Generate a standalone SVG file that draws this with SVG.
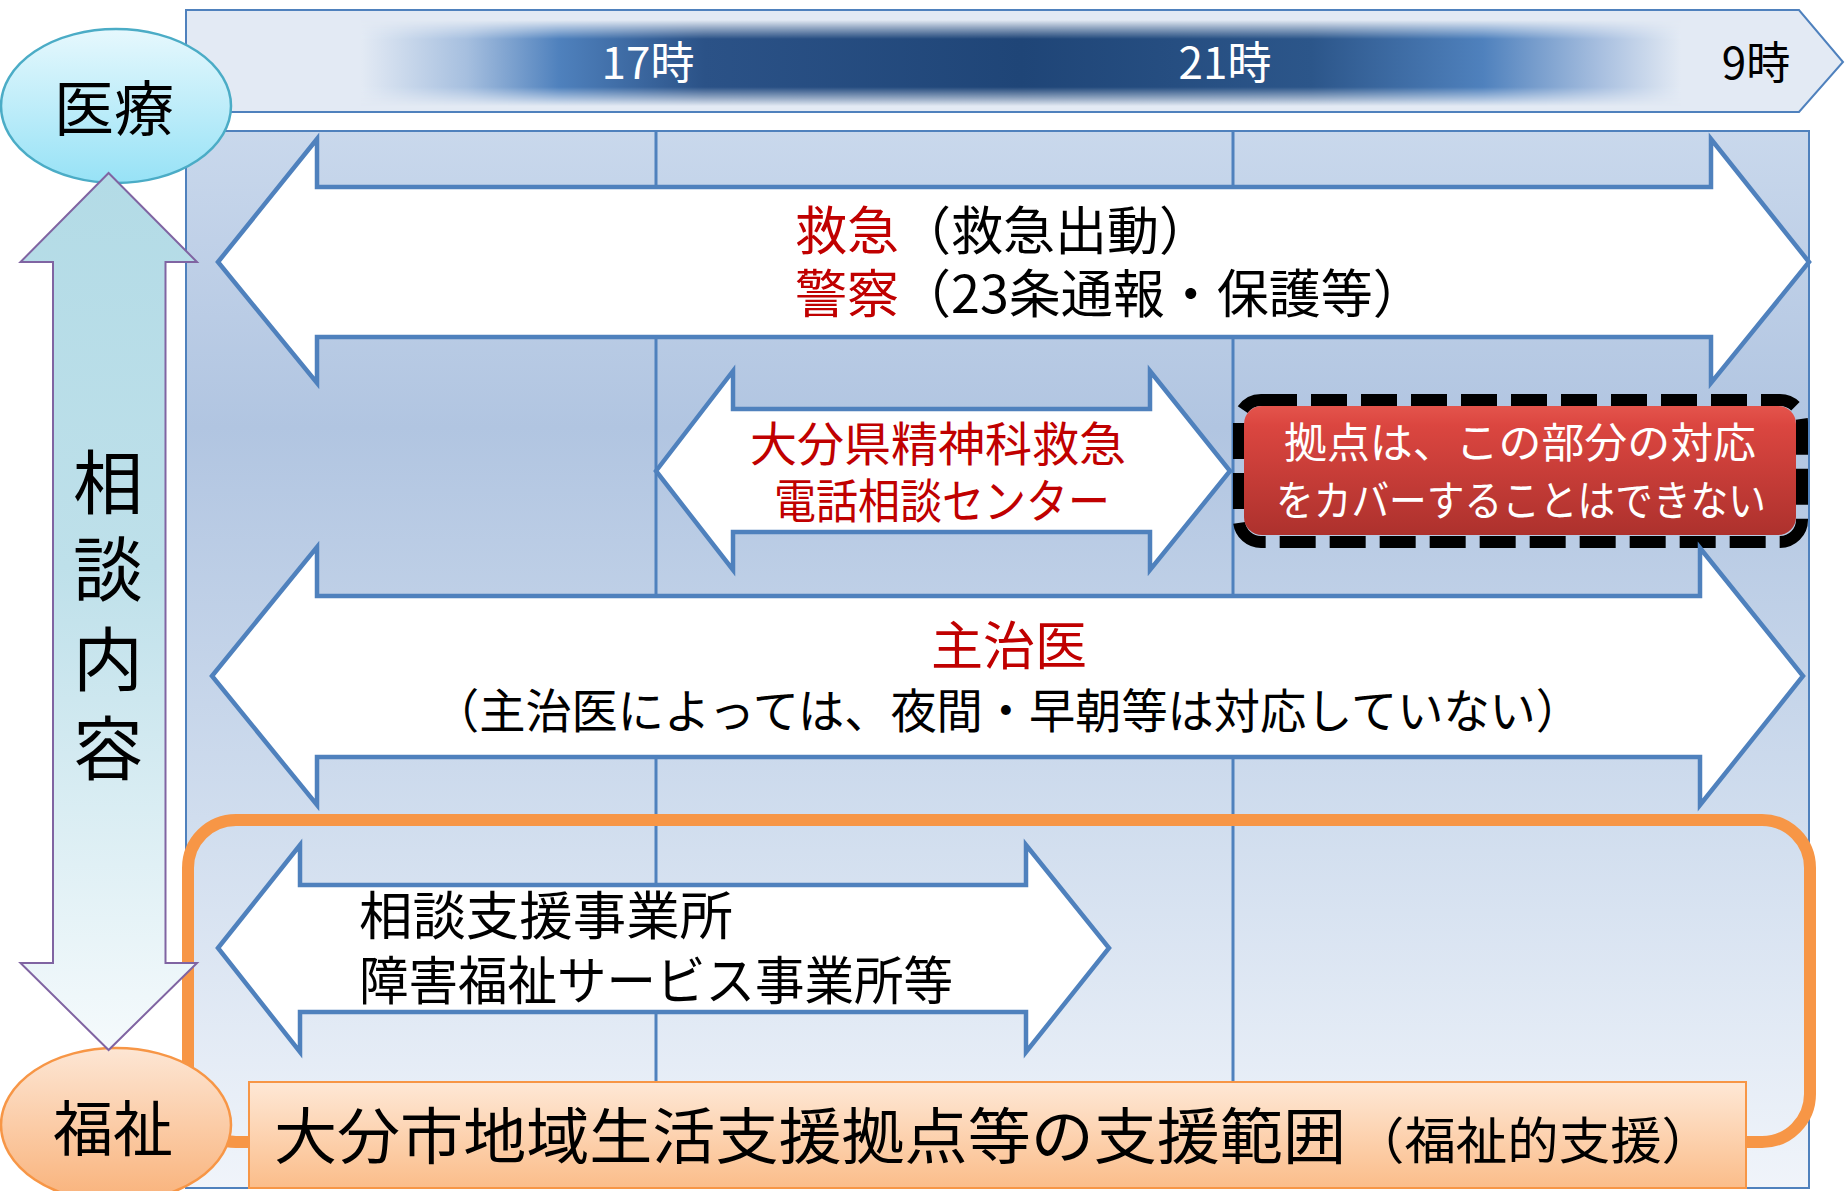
<svg xmlns="http://www.w3.org/2000/svg" width="1845" height="1191" viewBox="0 0 1845 1191">
<defs>
<style>
text{font-family:'Noto Sans CJK JP','Noto Sans',sans-serif;}
.arrow{fill:#ffffff;stroke:#4f81bd;stroke-width:4.5;stroke-linejoin:miter;}
.red{fill:#c00000;}
.blk{fill:#000000;}
.wht{fill:#ffffff;}
.vline{stroke:#4f81bd;stroke-width:3;}
</style>
<linearGradient id="gPanel" x1="0" y1="0" x2="0" y2="1">
<stop offset="0" stop-color="#c9d8ec"/>
<stop offset="0.28" stop-color="#b1c5e1"/>
<stop offset="0.65" stop-color="#d0ddee"/>
<stop offset="1" stop-color="#f0f4fa"/>
</linearGradient>
<linearGradient id="gBarH" x1="0" y1="0" x2="1" y2="0">
<stop offset="0" stop-color="#e3eaf4"/>
<stop offset="0.08" stop-color="#a6bfdf"/>
<stop offset="0.15" stop-color="#4f81bd"/>
<stop offset="0.26" stop-color="#2b5287"/>
<stop offset="0.5" stop-color="#1f4577"/>
<stop offset="0.72" stop-color="#2c568a"/>
<stop offset="0.85" stop-color="#4f81bd"/>
<stop offset="0.94" stop-color="#a9c0e0"/>
<stop offset="1" stop-color="#e3eaf4"/>
</linearGradient>
<linearGradient id="gBarMask" x1="0" y1="0" x2="0" y2="1">
<stop offset="0" stop-color="#000"/>
<stop offset="0.1" stop-color="#777"/>
<stop offset="0.22" stop-color="#fff"/>
<stop offset="0.78" stop-color="#fff"/>
<stop offset="0.9" stop-color="#777"/>
<stop offset="1" stop-color="#000"/>
</linearGradient>
<mask id="mBar" maskUnits="userSpaceOnUse" x="361" y="20" width="1320" height="86">
<rect x="361" y="20" width="1320" height="86" fill="url(#gBarMask)"/>
</mask>
<linearGradient id="gIryo" x1="0" y1="0" x2="0" y2="1">
<stop offset="0" stop-color="#e6f8fd"/>
<stop offset="1" stop-color="#97e2f6"/>
</linearGradient>
<linearGradient id="gFuku" x1="0" y1="0" x2="0" y2="1">
<stop offset="0" stop-color="#fde6d4"/>
<stop offset="1" stop-color="#f9b27a"/>
</linearGradient>
<linearGradient id="gAxis" x1="0" y1="0" x2="0" y2="1">
<stop offset="0" stop-color="#b3dbe6"/>
<stop offset="0.45" stop-color="#bee0ea"/>
<stop offset="1" stop-color="#f5fafc"/>
</linearGradient>
<linearGradient id="gRed" x1="0" y1="0" x2="0" y2="1">
<stop offset="0" stop-color="#e4544c"/>
<stop offset="0.15" stop-color="#db4640"/>
<stop offset="1" stop-color="#ad312d"/>
</linearGradient>
<linearGradient id="gLabel" x1="0" y1="0" x2="0" y2="1">
<stop offset="0" stop-color="#fee8d6"/>
<stop offset="1" stop-color="#fbbd8a"/>
</linearGradient>
</defs>

<rect x="0" y="0" width="1845" height="1191" fill="#ffffff"/>

<g id="timeline">
<polygon points="186,10 1799,10 1843,62 1799,112 186,112" fill="#e3eaf4" stroke="#4f81bd" stroke-width="2"/>
<rect x="361" y="20" width="1320" height="86" fill="url(#gBarH)" mask="url(#mBar)"/>
<text x="648" y="79" font-size="44" text-anchor="middle" class="wht">17時</text>
<text x="1225" y="79" font-size="44" text-anchor="middle" class="wht">21時</text>
<text x="1756" y="79" font-size="44" text-anchor="middle" class="blk">9時</text>
</g>

<g id="panel">
<rect x="186" y="131" width="1623" height="1057" fill="url(#gPanel)" stroke="#4f81bd" stroke-width="2"/>
<line x1="656" y1="131" x2="656" y2="1082" class="vline"/>
<line x1="1233" y1="131" x2="1233" y2="1082" class="vline"/>
</g>

<g id="range-frame">
<rect x="188" y="820" width="1622" height="322" rx="48" ry="48" fill="none" stroke="#f79646" stroke-width="12"/>
</g>

<g id="arrow-kyukyu">
<polygon class="arrow" points="218,262 317,139 317,187 1711,187 1711,139 1809,262 1711,383 1711,337 317,337 317,383"/>
<text font-size="52" class="blk"><tspan x="795" y="250" class="red">救急</tspan><tspan>（救急出動）</tspan><tspan x="795" y="313" class="red">警察</tspan><tspan>（23条通報・保護等）</tspan></text>
</g>

<g id="arrow-center">
<polygon class="arrow" points="656,471 733,371 733,409 1150,409 1150,371 1230,471 1150,570 1150,532 733,532 733,570"/>
<text font-size="47" class="red"><tspan x="750" y="461">大分県精神科救急</tspan><tspan x="774" y="518" textLength="336" lengthAdjust="spacingAndGlyphs">電話相談センター</tspan></text>
</g>

<g id="note-box">
<rect x="1239" y="400" width="563" height="142" rx="22" ry="22" fill="none" stroke="#000000" stroke-width="12" stroke-dasharray="36 14"/>
<rect x="1244" y="406" width="552" height="129" rx="18" ry="18" fill="url(#gRed)"/>
<text font-size="42" class="wht"><tspan x="1284" y="458" textLength="472" lengthAdjust="spacingAndGlyphs">拠点は、この部分の対応</tspan><tspan x="1276" y="516" textLength="490" lengthAdjust="spacingAndGlyphs">をカバーすることはできない</tspan></text>
</g>

<g id="arrow-shujii">
<polygon class="arrow" points="212,676 317,547 317,596 1700,596 1700,548 1803,676 1700,805 1700,757 317,757 317,805"/>
<text class="blk"><tspan x="931" y="665" font-size="52" class="red">主治医</tspan><tspan x="433" y="728" font-size="47" textLength="1149" lengthAdjust="spacingAndGlyphs">（主治医によっては、夜間・早朝等は対応していない）</tspan></text>
</g>

<g id="arrow-soudan">
<polygon class="arrow" points="218,948 300,845 300,885 1026,885 1026,845 1109,948 1026,1052 1026,1012 300,1012 300,1052"/>
<text font-size="52" class="blk"><tspan x="359" y="935" textLength="374" lengthAdjust="spacingAndGlyphs">相談支援事業所</tspan><tspan x="359" y="1000" textLength="594" lengthAdjust="spacingAndGlyphs">障害福祉サービス事業所等</tspan></text>
</g>

<g id="range-label">
<rect x="249" y="1082" width="1497" height="106" fill="url(#gLabel)" stroke="#f79646" stroke-width="2"/>
<text class="blk"><tspan x="274" y="1159" font-size="61" textLength="1072" lengthAdjust="spacingAndGlyphs">大分市地域生活支援拠点等の支援範囲</tspan><tspan x="1353" y="1159" font-size="50" textLength="360" lengthAdjust="spacingAndGlyphs">（福祉的支援）</tspan></text>
</g>

<g id="node-iryo">
<ellipse cx="116" cy="106" rx="115" ry="77" fill="url(#gIryo)" stroke="#4bacc6" stroke-width="2.5"/>
<text x="114" y="131" font-size="60" text-anchor="middle" class="blk">医療</text>
</g>

<g id="node-fukushi">
<ellipse cx="116" cy="1125" rx="115" ry="77" fill="url(#gFuku)" stroke="#f79646" stroke-width="2.5"/>
<text x="113" y="1151" font-size="60" text-anchor="middle" class="blk">福祉</text>
</g>

<g id="connectors">
<polygon points="108.6,173 197,262 165.5,262 165.5,963 197,963 108.6,1050 20.5,963 53,963 53,262 20.5,262" fill="url(#gAxis)" stroke="#8064a2" stroke-width="2"/>
<text font-size="70" text-anchor="middle" class="blk"><tspan x="108" y="509">相</tspan><tspan x="108" y="596">談</tspan><tspan x="108" y="686">内</tspan><tspan x="108" y="775">容</tspan></text>
</g>
</svg>
